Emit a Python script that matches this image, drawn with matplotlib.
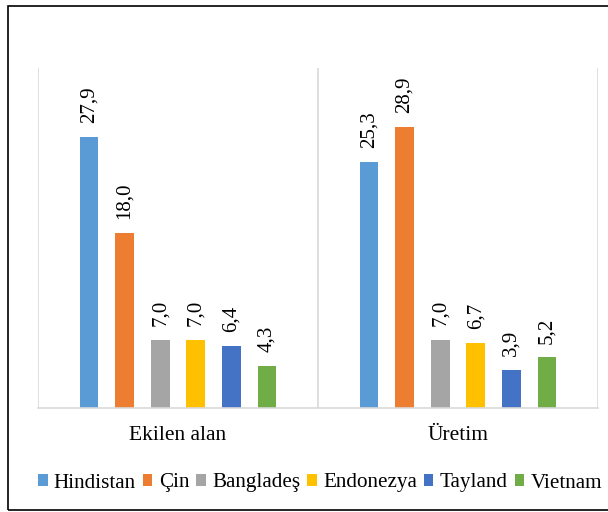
import numpy as np
import matplotlib
matplotlib.use("Agg")
import matplotlib.pyplot as plt
from matplotlib.patches import Rectangle

plt.rcParams['font.family'] = ['Liberation Serif', 'DejaVu Serif']

# veriler
gruplar = ["Ekilen alan", "Üretim"]
ulkeler = ["Hindistan", "Çin", "Bangladeş", "Endonezya", "Tayland", "Vietnam"]
ekilen_alan = [27.9, 18.0, 7.0, 7.0, 6.4, 4.3]
uretim = [25.3, 28.9, 7.0, 6.7, 3.9, 5.2]
renkler = ["#5B9BD5", "#ED7D31", "#A5A5A5", "#FFC000", "#4472C4", "#70AD47"]

fig = plt.figure(figsize=(6.08, 5.12), dpi=100)
ax = fig.add_axes([38 / 608, 1 - 408 / 512, 560 / 608, 340 / 512])

x = np.arange(len(gruplar))
aralik = 0.127
genislik = 0.067
for i, ulke in enumerate(ulkeler):
    degerler = [ekilen_alan[i], uretim[i]]
    konum = x + (i - 2.5) * aralik
    bars = ax.bar(konum, degerler, width=genislik, color=renkler[i], label=ulke)
    ax.bar_label(bars, labels=[f"{v:.1f}".replace(".", ",") for v in degerler],
                 rotation=90, padding=10, fontsize=15)

ax.set_xlim(-0.5, 1.5)
ax.set_ylim(0, 35)
ax.set_yticks([])
ax.set_xticks(x)
ax.set_xticklabels(gruplar, fontsize=15.5)
ax.tick_params(axis="x", length=0, pad=13)

# kategori ayirici cizgiler
for xv in [-0.5, 0.5, 1.5]:
    ax.axvline(xv, color="#d9d9d9", lw=1.2, zorder=0)
for s in ["top", "right", "left"]:
    ax.spines[s].set_visible(False)
ax.spines["bottom"].set_color("#d9d9d9")
ax.spines["bottom"].set_linewidth(1.2)

# lejant (sagda Vietnam kesik, orijinaldeki gibi)
fig.legend(loc="center left", bbox_to_anchor=(38 / 608, 1 - 483 / 512), ncol=6,
           frameon=False, fontsize=15.2, handlelength=0.45, handleheight=0.45,
           handletextpad=0.3, columnspacing=0.33, borderpad=0, borderaxespad=0)

# dis cerceve
fig.patches.append(Rectangle((8 / 608, 1 - 510 / 512), 1.2, 504 / 512,
                             transform=fig.transFigure, fill=False,
                             edgecolor="black", lw=1.2))

fig.savefig("out.png", dpi=100)
